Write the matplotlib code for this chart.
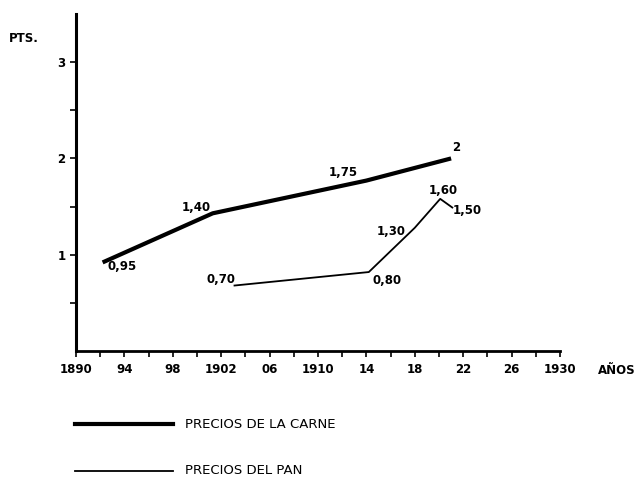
import matplotlib
matplotlib.use("Agg")
import matplotlib.pyplot as plt
from matplotlib.lines import Line2D

# Data (positions; labels as printed)
carne_years = [1892.2, 1901.3, 1914.0, 1921.0]
carne_vals = [0.92, 1.43, 1.77, 2.00]
carne_labels = ["0,95", "1,40", "1,75", "2"]

pan_years = [1903.1, 1914.2, 1918.0, 1920.1, 1921.1]
pan_vals = [0.68, 0.82, 1.28, 1.58, 1.49]
pan_labels = ["0,70", "0,80", "1,30", "1,60", "1,50"]

xtick_pos = [1890, 1894, 1898, 1902, 1906, 1910, 1914, 1918, 1922, 1926, 1930]
xtick_labels = ["1890", "94", "98", "1902", "06", "1910", "14", "18", "22", "26", "1930"]
ytick_pos = [1, 2, 3]
ytick_labels = ["1", "2", "3"]

plt.rcParams['font.family'] = ['DejaVu Sans']
FS = 8.5
W, H = 639, 480
fig = plt.figure(figsize=(W / 100, H / 100), dpi=100)
ax = fig.add_axes([76 / W, (H - 351) / H, 484 / W, (351 - 14) / H])
ax.set_xlim(1890, 1930)
ax.set_ylim(0, 3.5)

ax.plot(carne_years, carne_vals, color='black', lw=3.0, solid_capstyle='butt')
ax.plot(pan_years, pan_vals, color='black', lw=1.3)

# value labels (offsets in points)
carne_off = [(14, -3), (-12, 4.5), (-17, 6), (3.5, 8)]
for x, y, t, (dx, dy) in zip(carne_years, carne_vals, carne_labels, carne_off):
    ax.annotate(t, (x, y), xytext=(dx, dy), textcoords='offset points',
                ha='center', va='center', fontsize=FS, fontweight='bold')
pan_off = [(-10, 4), (13, -6), (-17, -3), (2, 6), (11, -2)]
for x, y, t, (dx, dy) in zip(pan_years, pan_vals, pan_labels, pan_off):
    ax.annotate(t, (x, y), xytext=(dx, dy), textcoords='offset points',
                ha='center', va='center', fontsize=FS, fontweight='bold')

for s in ['top', 'right']:
    ax.spines[s].set_visible(False)
ax.spines['left'].set_linewidth(2.2)
ax.spines['bottom'].set_linewidth(2.0)

ax.set_xticks(xtick_pos)
ax.set_xticklabels(xtick_labels, fontsize=FS, fontweight='bold')
ax.set_xticks(range(1890, 1931, 2), minor=True)
ax.set_yticks(ytick_pos)
ax.set_yticklabels(ytick_labels, fontsize=FS, fontweight='bold')
ax.set_yticks([0.5, 1.5, 2.5], minor=True)
ax.tick_params(axis='both', which='both', direction='out', length=4.5, width=1.2, pad=3)
ax.tick_params(axis='x', which='major', pad=4)

fig.text(9 / W, 1 - 39 / H, "PTS.", fontsize=FS, fontweight='bold', va='center', ha='left')
fig.text(598 / W, 1 - 370 / H, "AÑOS", fontsize=FS, fontweight='bold', va='center', ha='left')

# manual legend
LFS = 9.5
fig.add_artist(Line2D([75 / W, 173 / W], [1 - 424 / H, 1 - 424 / H], color='black', lw=3.0,
                      transform=fig.transFigure))
fig.text(185 / W, 1 - 424 / H, "PRECIOS DE LA CARNE", fontsize=LFS, va='center', ha='left')
fig.add_artist(Line2D([75 / W, 173 / W], [1 - 471 / H, 1 - 471 / H], color='black', lw=1.3,
                      transform=fig.transFigure))
fig.text(185 / W, 1 - 471 / H, "PRECIOS DEL PAN", fontsize=LFS, va='center', ha='left')

fig.savefig("out.png", dpi=100)
